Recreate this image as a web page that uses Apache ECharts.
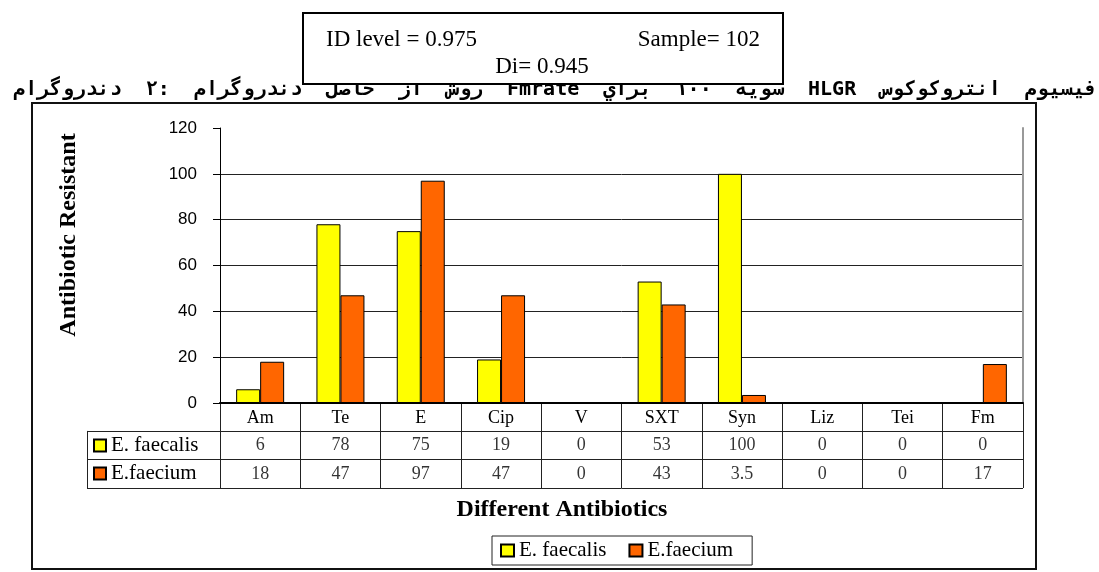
<!DOCTYPE html>
<html>
<head>
<meta charset="utf-8">
<script src="https://cdn.jsdelivr.net/npm/echarts@6/dist/echarts.min.js"></script>
<style>
html,body{margin:0;padding:0;background:#fff;}
#c{width:1099px;height:572px;}
</style>
</head>
<body>
<div id="c"></div>
<script>
const categories = ['Am', 'Te', 'E', 'Cip', 'V', 'SXT', 'Syn', 'Liz', 'Tei', 'Fm'];
const faecalis = [6, 78, 75, 19, 0, 53, 100, 0, 0, 0];
const faecium = [18, 47, 97, 47, 0, 43, 3.5, 0, 0, 17];
const seriesNames = ['E. faecalis', 'E.faecium'];
const yMin = 0, yMax = 120, yStep = 20;
const titleWords = ['دندروگرام', '۲:', 'دندروگرام', 'حاصل', 'از', 'روش', 'Fmrate', 'براي', '۱۰۰', 'سويه', 'HLGR', 'انتروكوكوس', 'فيسيوم'];
const boxLine1Left = 'ID level = 0.975';
const boxLine1Right = 'Sample= 102';
const boxLine2 = 'Di= 0.945';
const xTitle = 'Different Antibiotics';
const yTitle = 'Antibiotic Resistant';

const serif = '"Liberation Serif", "Times New Roman", serif';
const sans = '"Liberation Sans", Arial, sans-serif';
const colors = ['#FFFF00', '#FF6600'];
const LRM = '\u200E';
const titleText = titleWords.map(w => LRM + w + LRM).join('  ');

const chart = echarts.init(document.getElementById('c'));

const rowLabel = {
  show: true, position: 'inside', color: '#000', fontFamily: serif, fontSize: 18,
  formatter: p => String(p.value[2])
};

chart.setOption({
  animation: false,
  backgroundColor: '#fff',
  grid: [
    {left: 220, right: 76, top: 128, bottom: 169},
    {left: 220, right: 76, top: 403, height: 85},
    {left: 87, width: 133, top: 431.33, height: 56.67}
  ],
  xAxis: [
    {
      type: 'category', gridIndex: 0, data: categories,
      axisLine: {lineStyle: {color: '#000', width: 2}},
      axisTick: {show: false},
      axisLabel: {color: '#000', fontFamily: serif, fontSize: 18, margin: 6, interval: 0},
      splitLine: {show: false}
    },
    {
      type: 'category', gridIndex: 1, data: categories,
      axisLine: {lineStyle: {color: '#000', width: 1}},
      axisTick: {show: false}, axisLabel: {show: false},
      splitLine: {show: true, interval: 0, lineStyle: {color: '#222', width: 1}}
    },
    {
      type: 'value', gridIndex: 2, min: 0, max: 1,
      axisLine: {show: false}, axisTick: {show: false}, axisLabel: {show: false}, splitLine: {show: false}
    }
  ],
  yAxis: [
    {
      type: 'value', gridIndex: 0, min: yMin, max: yMax, interval: yStep,
      axisLine: {show: true, lineStyle: {color: '#000', width: 1}},
      axisTick: {show: true, inside: false, length: 7, lineStyle: {color: '#000'}},
      axisLabel: {color: '#000', fontFamily: sans, fontSize: 17, margin: 23},
      splitLine: {show: true, showMaxLine: false, lineStyle: {color: '#222', width: 1}}
    },
    {
      type: 'value', gridIndex: 0, position: 'right', min: yMin, max: yMax, interval: yStep,
      axisLine: {show: true, lineStyle: {color: '#999', width: 2}},
      axisTick: {show: false}, axisLabel: {show: false}, splitLine: {show: false}
    },
    {
      type: 'value', gridIndex: 1, min: 0, max: 3, interval: 1, inverse: true,
      axisLine: {show: true, lineStyle: {color: '#222'}},
      axisTick: {show: false}, axisLabel: {show: false},
      splitLine: {show: true, lineStyle: {color: '#222', width: 1}}
    },
    {
      type: 'value', gridIndex: 2, min: 0, max: 2, interval: 1, inverse: true,
      axisLine: {show: true, lineStyle: {color: '#222'}},
      axisTick: {show: false}, axisLabel: {show: false},
      splitLine: {show: true, lineStyle: {color: '#222', width: 1}}
    }
  ],
  legend: [
    {
      data: seriesNames, orient: 'vertical', left: 93, top: 435, padding: 0,
      itemWidth: 12, itemHeight: 12, itemGap: 7, icon: 'rect',
      textStyle: {color: '#000', fontFamily: serif, fontSize: 21}
    },
    {
      data: seriesNames, orient: 'horizontal', left: 492, top: 536,
      padding: [4, 19, 4, 8], borderColor: '#222', borderWidth: 1,
      itemWidth: 13, itemHeight: 12, itemGap: 22, icon: 'rect',
      textStyle: {color: '#000', fontFamily: serif, fontSize: 21}
    }
  ],
  series: [
    {
      name: seriesNames[0], type: 'bar', xAxisIndex: 0, yAxisIndex: 0, data: faecalis,
      barWidth: 24, barGap: '0%',
      itemStyle: {color: colors[0], borderColor: '#000', borderWidth: 1}
    },
    {
      name: seriesNames[1], type: 'bar', xAxisIndex: 0, yAxisIndex: 0, data: faecium,
      barWidth: 24, barGap: '0%',
      itemStyle: {color: colors[1], borderColor: '#000', borderWidth: 1}
    },
    {
      name: 'row1', type: 'scatter', xAxisIndex: 1, yAxisIndex: 2, silent: true,
      symbolSize: 1, itemStyle: {color: 'rgba(0,0,0,0)'},
      data: faecalis.map((v, i) => [i, 1.5, v]), label: rowLabel
    },
    {
      name: 'row2', type: 'scatter', xAxisIndex: 1, yAxisIndex: 2, silent: true,
      symbolSize: 1, itemStyle: {color: 'rgba(0,0,0,0)'},
      data: faecium.map((v, i) => [i, 2.5, v]), label: rowLabel
    }
  ],
  graphic: [
    {
      type: 'rect', z: 0, silent: true,
      shape: {x: 32, y: 103, width: 1004, height: 466},
      style: {fill: 'none', stroke: '#111', lineWidth: 2}
    },
    {
      type: 'text', z: 1, silent: true, x: 1097, y: 90,
      style: {text: titleText, align: 'right', verticalAlign: 'middle',
        font: 'bold 20px "DejaVu Sans Mono", "DejaVu Sans", monospace', fill: '#000'}
    },
    {
      type: 'rect', z: 5, silent: true,
      shape: {x: 303, y: 13, width: 480, height: 71},
      style: {fill: '#fff', stroke: '#000', lineWidth: 2}
    },
    {
      type: 'text', z: 6, silent: true, x: 326, y: 40,
      style: {text: boxLine1Left, align: 'left', verticalAlign: 'middle',
        font: '23px ' + serif, fill: '#000'}
    },
    {
      type: 'text', z: 6, silent: true, x: 760, y: 40,
      style: {text: boxLine1Right, align: 'right', verticalAlign: 'middle',
        font: '23px ' + serif, fill: '#000'}
    },
    {
      type: 'text', z: 6, silent: true, x: 542, y: 67,
      style: {text: boxLine2, align: 'center', verticalAlign: 'middle',
        font: '23px ' + serif, fill: '#000'}
    },
    {
      type: 'text', z: 6, silent: true, x: 562, y: 510,
      style: {text: xTitle, align: 'center', verticalAlign: 'middle',
        font: 'bold 24px ' + serif, fill: '#000'}
    },
    {
      type: 'text', z: 6, silent: true, x: 69, y: 235, rotation: Math.PI / 2,
      style: {text: yTitle, align: 'center', verticalAlign: 'middle',
        font: 'bold 24px ' + serif, fill: '#000'}
    }
  ]
});
</script>
</body>
</html>
